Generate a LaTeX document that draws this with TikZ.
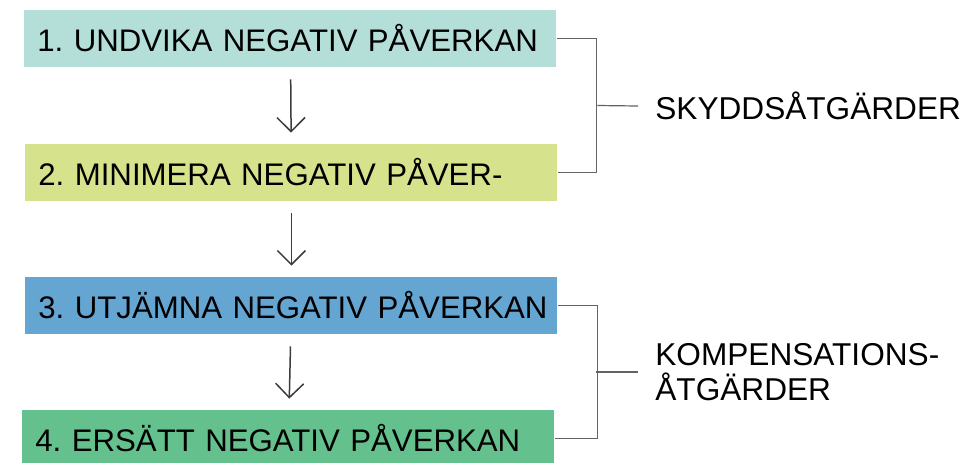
\documentclass[tikz,border=0pt]{standalone}
\usepackage{fontspec}
\setmainfont{Liberation Sans}
\usetikzlibrary{arrows.meta,calc,positioning}
\frenchspacing

\definecolor{undvik}{RGB}{180,222,216}
\definecolor{minim}{RGB}{214,226,140}
\definecolor{utjamn}{RGB}{100,165,210}
\definecolor{ersatt}{RGB}{100,192,140}
\definecolor{linje}{RGB}{60,60,60}

\tikzset{
    stufe/.style={anchor=west, minimum width=266pt, minimum height=28.5pt,
        text width=262pt, inner xsep=2pt, inner ysep=0pt, align=left,
        font=\fontsize{15.6}{17.5}\selectfont},
    pil/.style={-{Straight Barb[length=7pt,width=14pt]}, draw=linje, line width=0.75pt,
        shorten <=6pt, shorten >=5.5pt},
    klammer/.style={draw=linje!80, line width=0.6pt},
    etikett/.style={anchor=west, inner sep=3.5pt, align=left,
        font=\fontsize{15.8}{17.5}\selectfont}
}

\begin{document}
\begin{tikzpicture}[x=0.5pt,y=-0.5pt]
    \useasboundingbox (0,0) rectangle (967,462);

    % stegen
    \node[stufe, fill=undvik] (s1) at (24,38.5) {\hspace*{4.5pt}1. UNDVIKA NEGATIV PÅVERKAN};
    \node[stufe, fill=minim] (s2) at (25,172.5) {\hspace*{4.5pt}2. MINIMERA NEGATIV PÅVER-};
    \node[stufe, fill=utjamn] (s3) at (25,305.5) {\hspace*{4.5pt}3. UTJÄMNA NEGATIV PÅVERKAN};
    \node[stufe, fill=ersatt] (s4) at (22,438.5) {\hspace*{4.5pt}4. ERSÄTT NEGATIV PÅVERKAN};

    \draw[pil] (s1) -- (s2);
    \draw[pil] (s2) -- (s3);
    \draw[pil] (s3) -- (s4);

    % grupperna till höger
    \node[etikett] (skydd) at (648,106) {SKYDDSÅTGÄRDER};
    \node[etikett] (komp) at (648,372) {KOMPENSATIONS-\\ÅTGÄRDER};

    \draw[klammer] (s1.east) -- ++(40,0) |- (s2.east);
    \coordinate (m1) at ($(s1.east)!0.5!(s2.east) + (40,0)$);
    \draw[klammer] (m1) -- ([xshift=-5pt]skydd.west);

    \draw[klammer] (s3.east) -- ++(40,0) |- (s4.east);
    \coordinate (m2) at ($(s3.east)!0.5!(s4.east) + (40,0)$);
    \draw[klammer] (m2) -- ([xshift=-5pt]komp.west);

\end{tikzpicture}
\end{document}
